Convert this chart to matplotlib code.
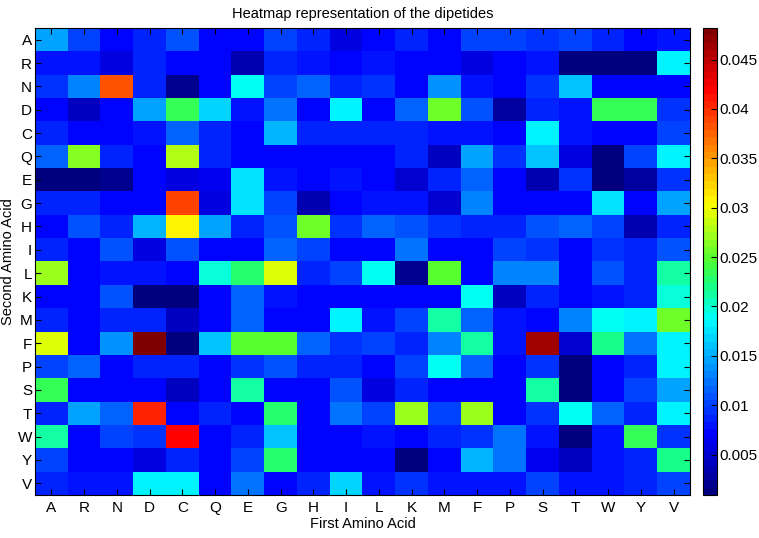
import matplotlib
matplotlib.use("Agg")
import matplotlib.pyplot as plt
from matplotlib.colors import LinearSegmentedColormap
import numpy as np

plt.rcParams['font.family'] = ['Liberation Sans Narrow', 'Liberation Sans', 'DejaVu Sans']

amino = ['A', 'R', 'N', 'D', 'C', 'Q', 'E', 'G', 'H', 'I',
         'L', 'K', 'M', 'F', 'P', 'S', 'T', 'W', 'Y', 'V']

# one list per second amino acid (rows), columns = first amino acid
row_A = [0.0145, 0.0105, 0.0075, 0.0085, 0.011, 0.0075, 0.0075, 0.0105, 0.0085, 0.0055,
         0.0075, 0.0085, 0.0075, 0.0105, 0.010, 0.0095, 0.0105, 0.009, 0.007, 0.008]
row_R = [0.008, 0.008, 0.006, 0.0085, 0.0075, 0.007, 0.0035, 0.009, 0.008, 0.0075,
         0.008, 0.007, 0.007, 0.006, 0.007, 0.008, 0.0015, 0.001, 0.0015, 0.0185]
row_N = [0.0095, 0.013, 0.0385, 0.0085, 0.002, 0.0075, 0.0193, 0.0105, 0.0115, 0.009,
         0.0095, 0.007, 0.014, 0.008, 0.007, 0.0095, 0.0158, 0.0075, 0.0075, 0.0075]
row_D = [0.007, 0.0045, 0.0075, 0.0145, 0.0235, 0.0168, 0.008, 0.0125, 0.007, 0.018,
         0.007, 0.0115, 0.026, 0.011, 0.0025, 0.0085, 0.008, 0.0235, 0.0235, 0.0095]
row_C = [0.0085, 0.0075, 0.0075, 0.008, 0.0115, 0.009, 0.0075, 0.015, 0.009, 0.0085,
         0.009, 0.009, 0.008, 0.008, 0.0075, 0.0185, 0.008, 0.0075, 0.0075, 0.010]
row_Q = [0.0115, 0.0265, 0.0085, 0.007, 0.028, 0.0085, 0.007, 0.007, 0.007, 0.007,
         0.0075, 0.009, 0.004, 0.0145, 0.0095, 0.0158, 0.006, 0.0009, 0.010, 0.018]
row_E = [0.001, 0.0012, 0.002, 0.007, 0.0055, 0.0065, 0.0175, 0.008, 0.0075, 0.008,
         0.007, 0.005, 0.0085, 0.0115, 0.007, 0.0035, 0.0095, 0.001, 0.0025, 0.0095]
row_G = [0.009, 0.0085, 0.0075, 0.007, 0.039, 0.006, 0.0175, 0.010, 0.0035, 0.0075,
         0.008, 0.008, 0.005, 0.013, 0.007, 0.007, 0.0075, 0.0175, 0.007, 0.0145]
row_H = [0.0075, 0.011, 0.009, 0.0155, 0.0305, 0.0145, 0.0085, 0.011, 0.026, 0.0095,
         0.0115, 0.011, 0.0095, 0.009, 0.009, 0.011, 0.0115, 0.010, 0.0035, 0.0085]
row_I = [0.009, 0.0075, 0.011, 0.0058, 0.011, 0.007, 0.007, 0.0115, 0.0105, 0.0075,
         0.007, 0.0125, 0.007, 0.007, 0.010, 0.0095, 0.0075, 0.0095, 0.009, 0.011]
row_L = [0.027, 0.007, 0.008, 0.008, 0.0075, 0.0195, 0.0225, 0.029, 0.009, 0.010,
         0.0192, 0.002, 0.025, 0.007, 0.013, 0.013, 0.0075, 0.011, 0.0085, 0.0215]
row_K = [0.007, 0.007, 0.011, 0.0009, 0.0012, 0.007, 0.0115, 0.008, 0.007, 0.0075,
         0.007, 0.007, 0.007, 0.0192, 0.004, 0.0085, 0.007, 0.008, 0.009, 0.0195]
row_M = [0.009, 0.007, 0.0085, 0.009, 0.004, 0.007, 0.0115, 0.0075, 0.007, 0.0185,
         0.008, 0.010, 0.021, 0.0115, 0.008, 0.0075, 0.013, 0.0192, 0.0185, 0.026]
row_F = [0.0295, 0.007, 0.014, 0.048, 0.001, 0.016, 0.025, 0.025, 0.0115, 0.0095,
         0.010, 0.0085, 0.013, 0.0215, 0.008, 0.046, 0.005, 0.022, 0.0125, 0.0185]
row_P = [0.010, 0.0115, 0.007, 0.009, 0.0085, 0.0075, 0.0095, 0.011, 0.0085, 0.009,
         0.007, 0.010, 0.0192, 0.0115, 0.007, 0.0095, 0.001, 0.0075, 0.0085, 0.0185]
row_S = [0.0235, 0.007, 0.007, 0.007, 0.004, 0.007, 0.021, 0.007, 0.007, 0.011,
         0.006, 0.009, 0.0075, 0.0075, 0.0075, 0.021, 0.001, 0.007, 0.010, 0.0145]
row_T = [0.009, 0.0145, 0.0115, 0.0405, 0.0075, 0.0085, 0.007, 0.023, 0.007, 0.0125,
         0.010, 0.027, 0.010, 0.027, 0.007, 0.0095, 0.019, 0.0115, 0.009, 0.0185]
row_W = [0.0215, 0.007, 0.0105, 0.0095, 0.042, 0.007, 0.009, 0.016, 0.007, 0.0075,
         0.008, 0.007, 0.009, 0.0095, 0.0125, 0.008, 0.0009, 0.008, 0.0235, 0.0095]
row_Y = [0.010, 0.007, 0.007, 0.006, 0.0085, 0.007, 0.010, 0.023, 0.0075, 0.0075,
         0.007, 0.001, 0.007, 0.015, 0.0125, 0.0065, 0.004, 0.008, 0.009, 0.022]
row_V = [0.009, 0.008, 0.008, 0.018, 0.018, 0.007, 0.0125, 0.0075, 0.0085, 0.017,
         0.008, 0.0095, 0.008, 0.008, 0.008, 0.010, 0.008, 0.008, 0.009, 0.0105]

cbar_ticks = [0.005, 0.01, 0.015, 0.02, 0.025, 0.03, 0.035, 0.04, 0.045]

data = np.array([row_A, row_R, row_N, row_D, row_C, row_Q, row_E, row_G, row_H, row_I,
                 row_L, row_K, row_M, row_F, row_P, row_S, row_T, row_W, row_Y, row_V])

# jet-like map with the stronger greens seen in the original
cmap = LinearSegmentedColormap.from_list('jet64', [
    (0.0, (0, 0, 0.5)),
    (0.125, (0, 0, 1)),
    (0.375, (0, 1, 1)),
    (0.45, (0.1, 1, 0.5)),
    (0.5, (0.3, 1, 0.2)),
    (0.625, (1, 1, 0)),
    (0.875, (1, 0, 0)),
    (1.0, (0.5, 0, 0)),
], N=64)

fig = plt.figure(figsize=(7.59, 5.38), dpi=100)
ax = fig.add_axes([35/759, 43/538, 655/759, 467/538])
cax = fig.add_axes([703/759, 43/538, 14/759, 467/538])

im = ax.imshow(data, cmap=cmap, vmin=0.0009, vmax=0.0482, aspect='auto',
               interpolation='nearest')

ax.set_xticks(range(len(amino)))
ax.set_xticklabels(amino)
ax.set_yticks(range(len(amino)))
ax.set_yticklabels(amino)
ax.tick_params(direction='in', top=True, right=True, length=4, width=0.8,
               labelsize=11, pad=4)
ax.tick_params(axis='y', pad=2)
ax.set_xlabel('First Amino Acid', fontsize=10.5, labelpad=2)
ax.set_ylabel('Second Amino Acid', fontsize=10.5, labelpad=2)
ax.set_title('Heatmap representation of the dipetides', fontsize=10.5, pad=7)

cb = fig.colorbar(im, cax=cax, ticks=cbar_ticks)
cb.ax.set_yticklabels([f'{t:g}' for t in cbar_ticks])
cb.ax.tick_params(direction='in', length=4, labelsize=11, pad=2)

fig.savefig('out.png', dpi=100)
